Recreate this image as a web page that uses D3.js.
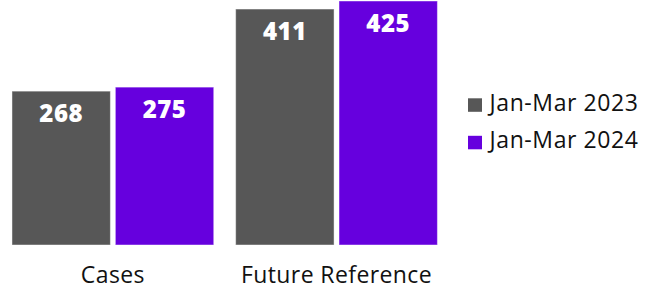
<!DOCTYPE html>
<html>
<head>
<meta charset="utf-8">
<script src="https://cdn.jsdelivr.net/npm/d3@7"></script>
<style>
  body { margin: 0; background: #fff; }
  text { font-family: "Open Sans", sans-serif; }
</style>
</head>
<body>
<div id="chart"></div>
<script>
const categories = ['Cases', 'Future Reference'];
const seriesNames = ['Jan-Mar 2023', 'Jan-Mar 2024'];
const values2023 = [268, 411];
const values2024 = [275, 425];
const colors = ['#575757', '#6600DE'];

const width = 654, height = 290;
const baseline = 245;

const svg = d3.select('#chart').append('svg')
    .attr('width', width)
    .attr('height', height);

const x0 = d3.scaleBand()
    .domain(categories)
    .range([0, 449.4])
    .paddingInner(0.098)
    .paddingOuter(0.0536);

const x1 = d3.scaleBand()
    .domain(seriesNames)
    .range([0, x0.bandwidth()])
    .paddingInner(0.048);

const y = d3.scaleLinear()
    .domain([0, 425])
    .range([baseline, 1]);

const color = d3.scaleOrdinal().domain(seriesNames).range(colors);

const rows = categories.map((c, i) => ({
    category: c,
    values: [
        {key: seriesNames[0], value: values2023[i]},
        {key: seriesNames[1], value: values2024[i]}
    ]
}));

const groups = svg.selectAll('.group')
    .data(rows)
    .join('g')
        .attr('class', 'group')
        .attr('transform', d => `translate(${x0(d.category)},0)`);

groups.selectAll('rect')
    .data(d => d.values)
    .join('rect')
        .attr('x', d => x1(d.key))
        .attr('y', d => y(d.value))
        .attr('width', x1.bandwidth())
        .attr('height', d => baseline - y(d.value))
        .attr('fill', d => color(d.key))
        .attr('stroke', 'rgba(255,255,255,0.45)')
        .attr('stroke-width', 1);

groups.selectAll('.value')
    .data(d => d.values)
    .join('text')
        .attr('class', 'value')
        .attr('x', d => x1(d.key) + x1.bandwidth() / 2)
        .attr('y', d => y(d.value) + 31)
        .attr('text-anchor', 'middle')
        .attr('fill', '#fff')
        .style('font-size', '24px')
        .style('font-weight', 800)
        .style('letter-spacing', '0.5px')
        .text(d => d.value);

// category labels
const xAxis = d3.axisBottom(x0).tickSize(0).tickPadding(0);
const axisGroup = svg.append('g')
    .attr('transform', `translate(0, ${baseline})`)
    .call(xAxis);
axisGroup.select('.domain').remove();
axisGroup.selectAll('text')
    .attr('dy', null)
    .attr('y', 38)
    .attr('fill', '#111')
    .style('font-family', '"Open Sans", sans-serif')
    .style('font-size', '23px')
    .style('letter-spacing', '0.4px');

// legend
const legend = svg.append('g')
    .attr('transform', 'translate(468, 98.3)');
const items = legend.selectAll('g')
    .data(seriesNames)
    .join('g')
        .attr('transform', (d, i) => `translate(0, ${i * 37.5})`);
items.append('rect')
    .attr('width', 14)
    .attr('height', 13.5)
    .attr('fill', d => color(d));
items.append('text')
    .attr('x', 21.5)
    .attr('y', 12.5)
    .attr('fill', '#111')
    .style('font-size', '23px')
    .style('letter-spacing', '0.6px')
    .text(d => d);
</script>
</body>
</html>
